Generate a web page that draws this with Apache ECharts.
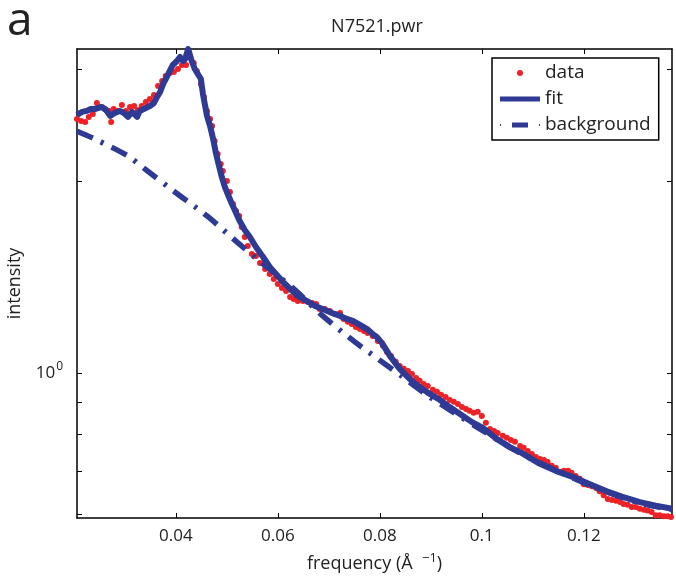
<!DOCTYPE html>
<html><head><meta charset="utf-8">
<script src="https://cdn.jsdelivr.net/npm/echarts@6/dist/echarts.min.js"></script>
<style>html,body{margin:0;padding:0;background:#fff}#c{width:676px;height:578px}</style>
</head><body><div id="c"></div>
<script>
const dataX = [0.0206,0.0214,0.0222,0.0229,0.0237,0.0245,0.0253,0.0261,0.0269,0.0273,0.0278,0.0286,0.0294,0.0302,0.0310,0.0318,0.0325,0.0333,0.0341,0.0349,0.0357,0.0365,0.0373,0.0380,0.0388,0.0396,0.0404,0.0412,0.0420,0.0427,0.0435,0.0441,0.0449,0.0455,0.0461,0.0467,0.0471,0.0476,0.0482,0.0488,0.0492,0.0500,0.0506,0.0512,0.0518,0.0524,0.0529,0.0535,0.0541,0.0549,0.0557,0.0565,0.0575,0.0584,0.0592,0.0600,0.0608,0.0616,0.0624,0.0631,0.0639,0.0649,0.0659,0.0667,0.0675,0.0682,0.0692,0.0702,0.0712,0.0722,0.0729,0.0737,0.0745,0.0753,0.0761,0.0769,0.0776,0.0786,0.0796,0.0806,0.0814,0.0822,0.0831,0.0839,0.0847,0.0855,0.0863,0.0871,0.0878,0.0886,0.0894,0.0904,0.0912,0.0920,0.0929,0.0937,0.0945,0.0953,0.0961,0.0969,0.0976,0.0984,0.0992,0.1000,0.1008,0.1016,0.1024,0.1031,0.1041,0.1049,0.1057,0.1065,0.1075,0.1082,0.1090,0.1098,0.1106,0.1114,0.1122,0.1129,0.1137,0.1145,0.1153,0.1161,0.1169,0.1176,0.1184,0.1192,0.1200,0.1208,0.1216,0.1224,0.1231,0.1239,0.1247,0.1255,0.1263,0.1271,0.1278,0.1286,0.1294,0.1302,0.1310,0.1318,0.1325,0.1333,0.1341,0.1349,0.1357,0.1365,0.1371];
const dataY = [2.505,2.487,2.478,2.524,2.551,2.654,2.616,2.597,2.579,2.478,2.597,2.579,2.635,2.579,2.616,2.625,2.588,2.625,2.664,2.693,2.732,2.822,2.873,2.926,2.958,2.969,3.001,3.045,3.045,3.134,3.067,2.980,2.843,2.712,2.579,2.505,2.442,2.314,2.207,2.129,2.076,2.002,1.924,1.842,1.796,1.764,1.695,1.635,1.583,1.537,1.526,1.488,1.456,1.430,1.405,1.380,1.360,1.345,1.316,1.307,1.297,1.297,1.292,1.288,1.283,1.260,1.260,1.251,1.238,1.242,1.216,1.203,1.194,1.181,1.172,1.164,1.155,1.143,1.123,1.103,1.079,1.063,1.041,1.026,1.015,1.007,0.996,0.982,0.972,0.961,0.954,0.941,0.934,0.924,0.917,0.907,0.901,0.894,0.884,0.878,0.872,0.866,0.869,0.856,0.835,0.817,0.811,0.805,0.797,0.791,0.785,0.780,0.768,0.763,0.754,0.746,0.738,0.733,0.730,0.725,0.715,0.710,0.699,0.702,0.702,0.697,0.689,0.682,0.669,0.667,0.664,0.660,0.652,0.643,0.634,0.632,0.630,0.627,0.623,0.621,0.616,0.616,0.612,0.610,0.608,0.605,0.598,0.598,0.596,0.596,0.594];
const fitX = [0.0206,0.0216,0.0225,0.0233,0.0241,0.0255,0.0263,0.0271,0.0280,0.0290,0.0298,0.0306,0.0314,0.0320,0.0324,0.0329,0.0337,0.0349,0.0357,0.0363,0.0369,0.0375,0.0380,0.0388,0.0394,0.0402,0.0408,0.0414,0.0418,0.0424,0.0427,0.0431,0.0437,0.0443,0.0449,0.0453,0.0457,0.0461,0.0467,0.0473,0.0478,0.0484,0.0490,0.0496,0.0504,0.0510,0.0518,0.0525,0.0535,0.0545,0.0557,0.0571,0.0584,0.0598,0.0612,0.0624,0.0639,0.0657,0.0673,0.0688,0.0706,0.0722,0.0735,0.0747,0.0761,0.0775,0.0786,0.0794,0.0804,0.0820,0.0839,0.0853,0.0865,0.0878,0.0898,0.0918,0.0937,0.0963,0.0980,0.1002,0.1029,0.1055,0.1078,0.1114,0.1145,0.1178,0.1212,0.1245,0.1276,0.1310,0.1341,0.1373];
const fitY = [2.542,2.570,2.579,2.597,2.597,2.616,2.588,2.533,2.560,2.579,2.560,2.524,2.570,2.542,2.524,2.579,2.597,2.625,2.654,2.712,2.762,2.843,2.894,2.980,3.045,3.089,3.134,3.089,3.111,3.226,3.168,3.089,3.001,2.947,2.894,2.742,2.635,2.533,2.442,2.330,2.223,2.122,2.031,1.959,1.889,1.842,1.783,1.733,1.677,1.635,1.577,1.521,1.467,1.425,1.385,1.355,1.321,1.297,1.274,1.260,1.242,1.229,1.216,1.207,1.190,1.172,1.151,1.139,1.115,1.063,1.015,0.989,0.968,0.951,0.927,0.907,0.884,0.856,0.838,0.820,0.788,0.765,0.749,0.720,0.702,0.687,0.669,0.652,0.639,0.627,0.619,0.612];
const bgX = [0.0206,0.0241,0.0306,0.0339,0.0398,0.0461,0.0520,0.0571,0.0629,0.0688,0.0751,0.0810,0.0845,0.0865,0.0898,0.0937,0.0996,0.1075,0.1153,0.1231,0.1310,0.1373];
const bgY = [2.396,2.330,2.191,2.091,1.924,1.764,1.605,1.483,1.360,1.229,1.119,1.033,0.986,0.958,0.917,0.875,0.817,0.749,0.699,0.657,0.625,0.610];
const xTickValues = [0.04,0.06,0.08,0.1,0.12];
const yTickValues = [0.6,0.7,0.8,0.9,1,2,3];
const yLabelValues = [1];
const seriesNames = ['data','fit','background'];

const FONT = 'Open Sans';
const BLUE = '#2e3a93';
const RED = '#ec2227';
const zip = (a,b) => a.map((v,i)=>[v,b[i]]);

const chart = echarts.init(document.getElementById('c'), null, {renderer:'canvas'});
const xBase = {
  type:'value', min:0.0206, max:0.1373,
  axisLine:{show:true, onZero:false, lineStyle:{color:'#000', width:1.5}},
  axisTick:{show:true, inside:true, length:5, customValues:xTickValues, lineStyle:{color:'#000', width:1}},
  splitLine:{show:false}
};
const yBase = {
  type:'log', logBase:10, min:0.592, max:3.226,
  axisLine:{show:true, onZero:false, lineStyle:{color:'#000', width:1.5}},
  axisTick:{show:true, inside:true, length:5, customValues:yTickValues, lineStyle:{color:'#000', width:1}},
  splitLine:{show:false}, minorTick:{show:false}
};
chart.setOption({
  animation:false,
  title:[
    {text:'N7521.pwr', left:372, top:13, textAlign:'center', textStyle:{fontFamily:FONT, fontSize:18, fontWeight:'normal', color:'#222'}},
    {text:'a', left:2, top:-6, textStyle:{fontFamily:FONT, fontSize:46, fontWeight:'normal', color:'#222'}}
  ],
  grid:{left:77, top:49, width:595, height:469, containLabel:false, outerBoundsMode:'none'},
  legend:{
    orient:'vertical', left:492, top:58, padding:[5,8,5,8], itemWidth:40, itemHeight:6, itemGap:6,
    borderColor:'#000', borderWidth:1.5, backgroundColor:'#fff',
    itemStyle:{borderWidth:0},
    textStyle:{fontFamily:FONT, fontSize:19, color:'#222', lineHeight:20},
    data:[
      {name:seriesNames[0], icon:'circle'},
      {name:seriesNames[1], icon:'path://M0,0H40V5H0Z'},
      {name:seriesNames[2], icon:'path://M0,1.5H1V3.5H0Z M12,0H28V5H12Z M39,1.5H40V3.5H39Z'}
    ]
  },
  xAxis:[
    Object.assign({}, xBase, {position:'bottom',
      name:'frequency (Å  {sup|−1})', nameLocation:'middle', nameGap:34,
      nameTextStyle:{fontFamily:FONT, fontSize:18, color:'#222', rich:{sup:{fontFamily:FONT, fontSize:13, color:'#222', verticalAlign:'top', padding:[0,0,10,0]}}},
      axisLabel:{show:true, customValues:xTickValues, margin:10, fontFamily:FONT, fontSize:17, color:'#222'}}),
    Object.assign({}, xBase, {position:'top', axisLabel:{show:false}})
  ],
  yAxis:[
    Object.assign({}, yBase, {position:'left',
      name:'intensity', nameLocation:'middle', nameGap:53, nameRotate:90,
      nameTextStyle:{fontFamily:FONT, fontSize:18, color:'#222'},
      axisLabel:{show:true, customValues:yLabelValues, margin:14,
        formatter:()=>'{b|10}{s|0}',
        rich:{b:{fontFamily:FONT, fontSize:17, color:'#222'}, s:{fontFamily:FONT, fontSize:12, color:'#222', padding:[0,0,12,1]}}}}),
    Object.assign({}, yBase, {position:'right', axisLabel:{show:false}})
  ],
  series:[
    {name:seriesNames[0], type:'scatter', data:zip(dataX,dataY), symbol:'circle', symbolSize:6,
      itemStyle:{color:RED, opacity:1}, z:2, clip:true},
    {name:seriesNames[1], type:'line', data:zip(fitX,fitY), showSymbol:false, symbol:'none',
      lineStyle:{color:BLUE, width:6, join:'round'}, itemStyle:{color:BLUE}, z:3, clip:true},
    {name:seriesNames[2], type:'line', data:zip(bgX,bgY), showSymbol:false, symbol:'none', smooth:0.3,
      lineStyle:{color:BLUE, width:5.5, type:[17,9,3,9], cap:'butt'}, itemStyle:{color:BLUE}, z:4, clip:true}
  ]
});
</script></body></html>
